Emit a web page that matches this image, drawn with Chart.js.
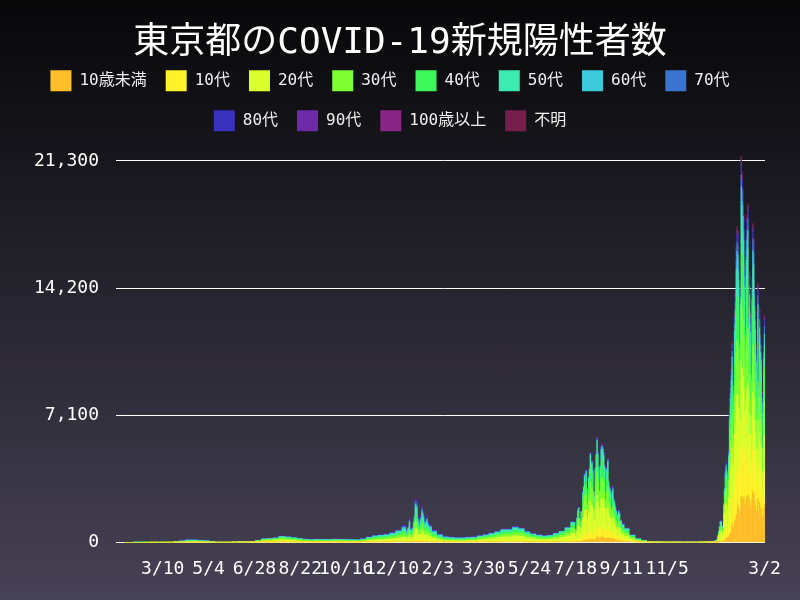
<!DOCTYPE html>
<html><head><meta charset="utf-8">
<script src="https://cdn.jsdelivr.net/npm/chart.js@4/dist/chart.umd.min.js"></script>
<style>
html,body{margin:0;padding:0;width:800px;height:600px;overflow:hidden;background:linear-gradient(to bottom,#070708 0%,#464255 100%);}
#wrap{width:800px;height:600px;}
</style></head><body><div id="wrap"><canvas id="c" width="800" height="600"></canvas></div>
<script>
// days since 2020-01-24: weekly samples, daily during 2020-12-26..2021-01-24, 2021-07-19..09-12 and 2022-01-02..03-02
const days = [0,7,14,21,28,35,42,49,56,63,70,77,84,91,98,105,112,119,126,133,140,147,154,161,168,175,182,189,196,203,210,217,224,231,238,245,252,259,266,273,280,287,294,301,308,315,322,329,
337,338,339,340,341,342,343,344,345,346,347,348,349,350,351,352,353,354,355,356,357,358,359,360,361,362,363,364,365,366,
371,378,385,392,399,406,413,420,427,434,441,448,455,462,469,476,483,490,497,504,511,518,525,532,539,
542,543,544,545,546,547,548,549,550,551,552,553,554,555,556,557,558,559,560,561,562,563,564,565,566,567,568,569,570,571,572,573,574,575,576,577,578,579,580,581,582,583,584,585,586,587,588,589,590,591,592,593,594,595,596,597,
602,609,616,623,630,637,644,651,658,665,672,679,686,693,700,707,
709,710,711,712,713,714,715,716,717,718,719,720,721,722,723,724,725,726,727,728,729,730,731,732,733,734,735,736,737,738,739,740,741,742,743,744,745,746,747,748,749,750,751,752,753,754,755,756,757,758,759,760,761,762,763,764,765,766,767,768];

const age0 = [0,0,0,0,0,0,0,0,0,0, 1,2,2,1,1,0,0,0,0,0, 0,1,1,2,3,3,4,6,6,6, 6,6,5,5,5,5,6,5,5,5, 5,6,9,11,12,14,17,20,
24,18,12,21,24,33,20,20,20,22,32,40,61,60,57,37,30,24,36,38,51,45,40,30,31,32,37,29,27,25,
18,12,9,8,7,7,8, 9,11,13,16,19,22,23,26,24,19, 15,13,11,12,16,22,29,40,
25,49,64,69,48,39,62,50,100,111,135, 132,162,122,88,148,167,202,181,183,163,115,104,168,200, 325,280,236,163,241,296,304,297,279,242,135,232,233,259, 251,224,216,134,204,222,178,165,146,130,68,114,128,117,87,89,75,
58,30,13,7, 3,2,2,1,1,1,1,1,1,1, 2,3,
3,3,5,12,19,28,49,49,35,38,88,125,162,274,250,223,311,443,518,582,1010,852,765,1153,1268,1488,1587,2092,1907,1410,1733,2589,2481,2376,2560,2170,1708,2394,2562,2646,1834,2416,2048,1568,2368,2848,2720,2304,2080,1760,1394,2465,1598,2227,1972,1887,1445,1020,1904,2159];
const age10 = [0,0,0,0,0,0,0,0,0,1, 2,3,3,2,2,1,0,0,0,1, 1,1,2,4,8,9,11,15,14,13, 12,10,8,9,8,9,10,9,9,8, 7,11,16,20,22,24,28,35,
47,35,24,43,47,67,39,41,41,44,64,80,122,120,113,75,61,49,72,75,102,90,80,60,62,64,74,59,54,49,
35,24,17,15,14,14,17, 19,27,30,36,43,52,53,62,56,43, 35,29,27,29,36,50,66,92,
58,111,147,158,109,90,141,114,228,254,309, 297,365,275,198,334,375,454,406,411,366,260,235,378,449, 591,509,430,296,438,539,553,541,507,439,245,422,423,470, 430,384,370,230,349,380,305,283,251,222,116,195,220,201,149,153,128,
100,50,20,10, 5,3,2,2,2,2,1,1,1,2, 3,6,
6,7,11,27,45,65,110,110,78,87,198,281,365,547,501,445,622,885,1037,1164,1460,1231,1105,1666,1831,2150,2292,2441,2225,1645,2022,3021,2895,2772,2560,2170,1708,2394,2562,2646,1834,2114,1792,1372,2072,2492,2380,2016,1820,1540,1148,2030,1316,1834,1624,1554,1190,840,1568,1778];
const age20 = [0,0,0,0,0,1,0,1,2,8, 18,30,32,24,20,8,2,1,3,6, 13,16,26,52,94,104,110,140,115,90, 70,55,45,50,47,46,52,50,46,44, 41,57,84,105,116,127,151,186,
228,171,116,207,225,320,187,195,197,212,306,381,588,572,546,358,293,231,342,361,490,435,380,289,298,307,352,280,255,237,
168,113,82,72,65,68,78, 88,122,138,166,198,237,240,282,256,198, 160,134,122,131,166,205,274,380,
247,470,624,674,462,384,600,487,967,1080,1314, 1055,1300,980,702,1186,1333,1613,1444,1461,1301,923,837,1344,1595, 1713,1478,1247,858,1269,1561,1606,1567,1471,1273,708,1224,1225,1363, 894,800,770,478,727,791,636,591,522,463,241,408,460,419,310,317,265,
200,105,57,30, 15,10,7,6,6,5,5,4,5,8, 14,26,
35,43,63,164,269,387,465,465,331,366,835,1187,1539,1368,1252,1113,1556,2213,2591,2910,2807,2367,2126,3203,3522,4135,4408,3661,3338,2468,3033,4531,4343,4158,3475,2945,2318,3249,3477,3591,2489,2567,2176,1666,2516,3026,2890,2448,2210,1870,1312,2320,1504,2096,1856,1776,1360,960,1792,2032];
const age30 = [0,0,0,0,1,0,1,1,2,7, 17,28,30,23,19,8,2,1,2,3, 6,7,11,23,42,48,55,80,70,60, 48,38,32,36,34,34,38,36,34,32, 30,42,62,78,86,94,112,138,
171,127,87,154,170,241,141,147,147,159,230,286,440,431,408,269,219,175,258,270,368,326,287,217,223,229,265,212,193,177,
126,85,61,54,49,50,56, 60,72,82,99,118,141,142,167,152,118, 95,80,72,78,99,136,183,253,
160,305,403,435,299,248,388,314,627,699,850, 726,893,673,483,816,917,1109,993,1005,895,634,575,924,1098, 1241,1070,902,622,919,1131,1162,1135,1066,922,514,886,888,988, 680,608,585,364,553,602,482,449,397,352,184,310,348,318,236,242,203,
150,80,38,20, 10,6,4,4,4,4,3,3,3,4, 7,12,
15,19,27,70,115,166,220,220,157,173,396,562,729,821,751,668,933,1328,1555,1746,1909,1610,1446,2178,2395,2811,2997,2789,2543,1880,2311,3452,3309,3168,2926,2480,1952,2736,2928,3024,2096,2265,1920,1470,2220,2670,2550,2160,1950,1650,1230,2175,1410,1965,1740,1665,1275,900,1680,1905];
const age40 = [0,0,0,1,0,1,0,1,2,7, 15,26,27,20,17,7,2,1,1,2, 3,4,6,12,22,26,30,45,45,42, 35,30,26,29,28,28,31,29,28,26, 24,34,50,62,69,75,90,110,
142,106,72,128,142,201,117,122,122,133,192,239,367,359,340,224,183,146,215,225,307,271,239,181,186,191,221,176,161,148,
105,70,51,45,40,41,46, 50,61,69,83,99,118,120,141,128,99, 80,67,61,66,83,105,141,196,
124,236,311,336,231,192,300,243,484,540,657, 561,690,520,373,631,708,857,768,776,691,490,444,714,848, 1004,866,730,504,744,916,941,919,863,747,416,717,719,800, 573,512,493,306,465,507,406,378,334,296,155,261,293,268,199,204,171,
128,68,29,15, 8,5,3,3,3,3,2,2,3,3, 5,9,
9,11,17,43,71,101,147,147,105,115,264,375,486,593,542,482,674,959,1123,1261,1572,1326,1190,1794,1972,2315,2468,2615,2384,1763,2167,3236,3102,2970,2743,2325,1830,2565,2745,2835,1965,2265,1920,1470,2220,2670,2550,2160,1950,1650,1230,2175,1410,1965,1740,1665,1275,900,1680,1905];
const age50 = [0,0,1,0,1,0,1,1,2,6, 14,22,24,18,15,6,2,1,1,2, 2,2,4,8,14,16,20,30,30,30, 25,24,20,23,22,22,24,23,22,20, 19,27,40,51,56,61,73,90,
133,99,67,120,132,187,110,114,114,124,179,223,343,335,318,209,171,136,201,210,286,253,223,169,174,178,206,165,150,138,
98,66,48,42,38,37,41, 43,46,52,62,74,89,90,106,96,74, 60,50,46,49,62,68,91,126,
73,139,183,198,136,113,176,143,285,318,387, 363,446,336,241,408,458,555,497,502,447,317,287,462,549, 650,560,472,326,481,592,609,595,558,483,269,464,465,517, 394,352,339,211,320,348,279,260,230,204,106,179,202,184,137,140,117,
90,48,23,12, 6,4,3,2,3,2,2,2,2,2, 4,6,
7,8,12,31,51,74,98,98,70,77,176,250,324,410,375,334,467,664,777,873,1010,852,765,1153,1268,1488,1587,1569,1431,1058,1300,1942,1861,1782,1646,1395,1098,1539,1647,1701,1179,1359,1152,882,1332,1602,1530,1296,1170,990,738,1305,846,1179,1044,999,765,540,1008,1143];
const age60 = [0,0,0,1,0,1,0,0,1,4, 9,15,16,12,10,4,1,1,1,1, 2,1,2,4,7,9,11,17,16,15, 13,12,10,12,11,11,13,12,11,11, 10,14,21,27,30,33,39,48,
76,57,38,68,76,107,63,65,65,71,102,127,196,191,181,120,98,78,115,120,164,145,127,96,99,102,118,94,86,79,
56,38,27,24,22,20,22, 21,19,21,26,31,37,37,44,40,31, 25,21,19,21,26,19,25,35,
18,35,46,49,34,28,44,36,71,79,97, 83,101,76,55,93,104,126,113,114,102,72,65,105,125, 177,153,129,89,131,162,166,162,152,132,73,127,127,141, 143,128,123,77,116,127,102,94,84,74,39,65,73,67,50,51,43,
34,18,13,7, 3,2,2,2,1,1,1,1,1,2, 2,3,
3,4,6,16,26,37,61,61,44,48,110,156,203,228,209,185,259,369,432,485,561,473,425,641,704,827,882,872,795,588,722,1079,1034,990,914,775,610,855,915,945,655,831,704,539,814,979,935,792,715,605,451,798,517,721,638,611,468,330,616,699];
const age70 = [0,0,0,0,1,0,0,1,1,4, 7,12,13,10,8,3,1,1,1,1, 1,1,1,3,5,7,9,12,11,11, 10,8,8,9,8,8,9,9,8,8, 8,10,15,20,22,24,28,35,
57,42,29,51,57,80,47,49,49,53,77,95,147,144,136,90,73,58,86,90,123,109,96,72,74,76,88,71,64,59,
42,28,20,18,16,15,15, 14,11,13,16,19,22,22,26,24,19, 15,13,11,12,16,9,12,17,
11,21,27,30,20,17,26,21,43,48,58, 40,49,37,26,45,50,61,54,55,49,35,31,50,60, 89,76,64,44,66,81,83,81,76,66,37,63,63,71, 90,80,77,48,73,79,63,59,52,46,24,41,46,42,31,32,27,
20,11,10,5, 3,2,1,1,1,1,1,1,1,1, 2,3,
3,3,5,12,19,28,37,37,26,29,66,94,122,137,125,111,156,221,259,291,337,284,255,384,423,496,529,523,477,353,433,647,620,594,640,543,427,599,641,662,459,529,448,343,518,623,595,504,455,385,287,508,329,459,406,389,298,210,392,445];
const age80 = [0,0,0,0,0,0,1,0,0,2, 5,9,10,7,6,2,1,0,1,1, 1,1,1,1,3,5,6,9,8,8, 7,5,4,5,5,5,5,5,5,4, 4,7,10,12,13,14,17,21,
47,35,24,43,47,67,39,41,41,44,64,80,122,120,113,75,61,49,72,75,102,90,80,60,62,64,74,59,54,49,
35,23,17,15,13,12,11, 10,7,8,11,13,15,15,18,16,13, 10,9,7,8,11,4,6,8,
6,11,15,16,11,9,14,11,23,25,31, 20,24,18,13,22,25,30,27,27,24,17,16,25,30, 47,41,34,24,35,43,44,43,41,35,20,34,34,38, 54,48,46,29,44,48,38,35,31,28,15,24,28,25,19,19,16,
12,6,5,3, 1,1,1,1,1,1,1,0,0,1, 1,1,
2,2,3,8,13,18,24,24,17,19,44,62,81,91,83,74,104,148,173,194,281,237,213,320,352,413,441,436,397,294,361,539,517,495,457,388,305,428,458,473,328,378,320,245,370,445,425,360,325,275,205,363,235,328,290,278,213,150,280,318];
const age90 = [0,0,0,0,0,0,0,0,0,1, 2,3,3,3,2,1,1,0,0,0, 1,1,1,1,1,2,3,4,3,3, 3,2,2,2,2,2,2,2,2,2, 2,2,3,4,4,4,5,7,
19,14,10,17,19,27,16,16,16,18,26,32,49,48,45,30,24,19,29,30,41,36,32,24,25,25,29,24,21,20,
14,9,7,6,5,5,5, 5,4,4,5,6,7,8,8,8,6, 5,4,4,4,5,2,3,3,
3,6,7,8,5,5,7,6,11,13,15, 10,12,9,7,11,12,15,14,14,12,9,8,13,15, 24,20,17,12,18,22,22,22,20,18,10,17,17,19, 36,32,31,19,29,32,25,24,21,19,10,16,18,17,12,13,11,
8,4,2,1, 1,0,0,0,0,0,0,0,0,0, 0,1,
1,1,1,4,6,9,12,12,8,10,21,31,40,46,42,37,52,74,86,97,112,95,85,128,141,165,176,174,159,118,144,216,207,198,183,155,122,171,183,189,131,181,154,118,178,214,204,173,156,132,98,174,113,157,139,133,102,72,134,152];
const age100 = [0,0,0,0,0,0,0,0,0,0, 0,0,0,0,0,0,0,0,0,0, 0,0,0,0,0,0,0,0,0,0, 0,0,0,0,0,0,0,0,0,0, 0,0,0,0,0,0,0,0,
0,0,0,0,0,0,0,0,0,0,0,0,0,0,0,0,0,0,0,0,0,0,0,0,0,0,0,0,0,0,
0,0,0,0,0,0,0, 0,0,0,0,0,0,0,0,0,0, 0,0,0,0,0,0,0,0,
0,0,0,0,0,0,0,0,0,0,0, 0,0,0,0,0,0,0,0,0,0,0,0,0,0, 0,0,0,0,0,0,0,0,0,0,0,0,0,0, 0,0,0,0,0,0,0,0,0,0,0,0,0,0,0,0,0,
0,0,0,0, 0,0,0,0,0,0,0,0,0,0, 0,0,
0,0,0,0,0,0,0,0,0,0,0,0,0,0,0,0,0,0,0,0,1,1,1,2,2,2,2,3,3,2,3,4,4,4,4,3,3,4,4,4,3,4,3,2,4,4,4,3,3,3,2,3,2,3,2,2,2,1,2,3];
const ageUnknown = [0,0,0,0,0,0,0,0,0,0, 0,0,0,0,0,0,0,0,0,0, 0,0,0,0,1,1,1,2,2,2, 1,0,0,0,0,0,0,0,0,0, 0,0,0,0,0,0,0,0,
5,4,2,4,5,7,4,4,4,4,6,8,12,12,11,7,6,5,7,8,10,9,8,6,6,6,7,6,5,5,
3,2,1,1,1,1,1, 1,0,0,0,0,0,0,0,0,0, 0,0,0,0,0,0,0,0,
2,4,5,6,4,3,5,4,9,10,12, 13,16,12,9,15,17,20,18,18,16,12,10,17,20, 47,41,34,24,35,43,44,43,41,35,20,34,34,38, 36,32,31,19,29,32,25,24,21,19,10,16,18,17,12,13,11,
0,0,0,0, 0,0,0,0,0,0,0,0,0,0, 0,0,
0,2,1,3,7,9,1,0,0,0,0,1,0,46,42,37,51,73,87,96,167,140,127,191,208,248,262,258,236,172,216,320,306,291,179,151,119,166,178,184,127,191,163,125,188,227,217,184,166,140,105,184,120,166,149,141,107,77,144,161];

const seriesNames = ['10歳未満','10代','20代','30代','40代','50代','60代','70代','80代','90代','100歳以上','不明'];
const seriesValues = [age0,age10,age20,age30,age40,age50,age60,age70,age80,age90,age100,ageUnknown];
const seriesColors = ['#ffbf2a','#fff22a','#dbff2c','#7eff32','#3cf85a','#3cebb0','#3cc9dc','#3a74d0','#3a31be','#6d2ba8','#8a2588','#761f4c'];

const tickDays = [46,101,156,211,266,321,376,431,486,541,596,651,768];
const tickLabels = ['3/10','5/4','6/28','8/22','10/16','12/10','2/3','3/30','5/24','7/18','9/11','11/5','3/2'];
const yTicks = [0,7100,14200,21300];

const FONT = "'DejaVu Sans Mono','Noto Sans CJK JP',monospace";
const totals = days.map((d,i)=>seriesValues.reduce((s,a)=>s+(a[i]||0),0));
const yMax = Math.max(...totals);

const datasets = seriesNames.map((name,k)=>({
  label:name,
  data: days.map((d,i)=>({x:d,y:seriesValues[k][i]})),
  backgroundColor: seriesColors[k],
  borderWidth:0,
  barThickness:'flex',
  categoryPercentage:1,
  barPercentage:1
}));

const legendShift = {id:'legendShift', afterLayout(chart){ chart.legend.left -= 10; chart.legend.right -= 10; }};

new Chart(document.getElementById('c'), {
  type:'bar',
  data:{datasets},
  plugins:[legendShift],
  options:{
    responsive:false,
    animation:false,
    events:[],
    layout:{padding:{left:35,right:35,top:0,bottom:4}},
    plugins:{
      title:{display:true,text:'東京都のCOVID-19新規陽性者数',color:'#ffffff',
        font:{family:FONT,size:36,weight:'normal',lineHeight:0.44},padding:{top:35.4,bottom:0}},
      subtitle:{display:true,text:'',weight:500,font:{size:14.8,lineHeight:1},padding:0},
      legend:{position:'top',labels:{color:'#eeeeee',font:{family:FONT,size:16},boxWidth:21,boxHeight:21,padding:19}},
      tooltip:{enabled:false}
    },
    scales:{
      x:{type:'linear',stacked:true,bounds:'data',min:-0.5,max:768.5,offset:false,
        grid:{display:false,drawTicks:false,tickLength:0},border:{display:false},
        afterBuildTicks:(ax)=>{ax.ticks=tickDays.map(v=>({value:v}));},
        ticks:{autoSkip:false,maxRotation:0,minRotation:0,color:'#ffffff',padding:16,
          font:{family:FONT,size:18},
          callback:(v)=>{const i=tickDays.indexOf(v);return i>=0?tickLabels[i]:'';}}
      },
      y:{stacked:true,min:0,max:yMax,
        grid:{color:'#ffffff',lineWidth:1,drawTicks:true,tickLength:8},border:{display:false},
        afterBuildTicks:(ax)=>{ax.ticks=yTicks.map(v=>({value:v}));},
        afterFit:(ax)=>{ax.width=89;},
        ticks:{color:'#ffffff',padding:17,font:{family:FONT,size:18},
          callback:(v)=>v.toLocaleString('en-US')}
      }
    }
  }
});
</script></body></html>
